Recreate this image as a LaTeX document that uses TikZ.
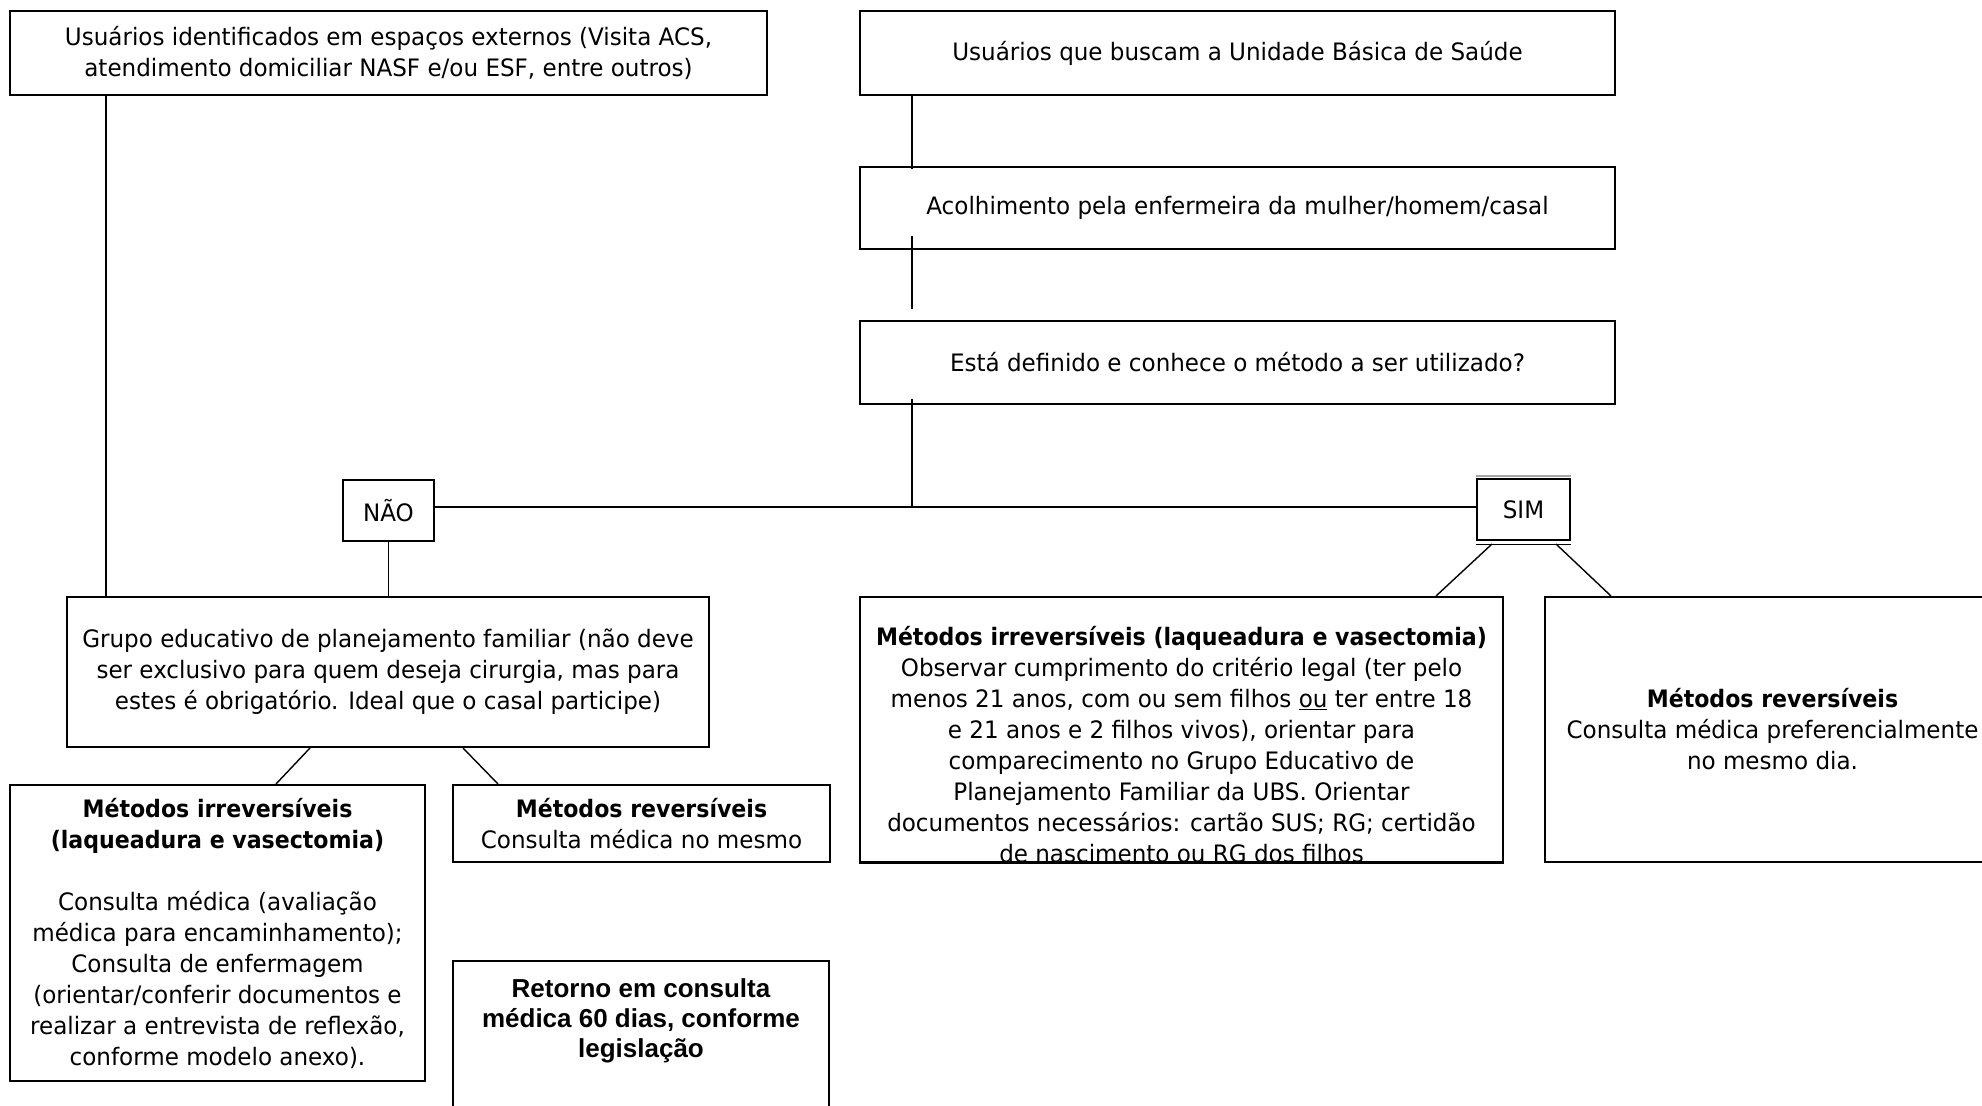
\documentclass[tikz,border=0pt]{standalone}
\usepackage{fontspec}
\setmainfont{DejaVu Sans}[UprightFeatures={FakeStretch=0.96},BoldFeatures={FakeStretch=0.92}]
\newfontfamily\arialfont{Liberation Sans}
\usetikzlibrary{calc}
\begin{document}
\begin{tikzpicture}[x=1pt,y=-1pt,
  box/.style={draw, line width=2pt, inner sep=0pt, align=center, font=\fontsize{24}{31}\selectfont},
  txt/.style={inner sep=0pt, align=center, font=\fontsize{24}{31}\selectfont},
  conn/.style={line width=1.4pt}]
\useasboundingbox (0,0) rectangle (1982,1106);
\clip (0,0) rectangle (1982,1106);
\fill[white] (0,0) rectangle (1982,1106);

\node[box, minimum width=757pt, minimum height=84pt] (box1) at (388.5,53)
  {Usuários identificados em espaços externos (Visita ACS,\\atendimento domiciliar NASF e/ou ESF, entre outros)};
\node[box, minimum width=755pt, minimum height=84pt] (box2) at (1237.5,53)
  {Usuários que buscam a Unidade Básica de Saúde};
\node[box, minimum width=755pt, minimum height=82pt] (box3) at (1237.5,208)
  {Acolhimento pela enfermeira da mulher/homem/casal};
\node[box, minimum width=755pt, minimum height=83pt] (box4) at (1237.5,362.5)
  {Está definido e conhece o método a ser utilizado?};

\node[box, minimum width=91pt, minimum height=61pt] (nao) at (388.5,510.5) {NÃO};
\node[box, minimum width=93pt, minimum height=61pt] (sim) at (1523.5,509.5) {SIM};
\draw[gray!70, line width=2.5pt] ($(sim.north west)+(0,-2)$) -- ($(sim.north east)+(0,-2)$);
\draw[line width=1pt] ($(sim.south west)+(0,3)$) -- ($(sim.south east)+(0,3)$);

\node[box, minimum width=642pt, minimum height=150pt] (grupo) at (388,672)
  {Grupo educativo de planejamento familiar (não deve\\ser exclusivo para quem deseja cirurgia, mas para\\estes é obrigatório. Ideal que o casal participe)};

\node[box, minimum width=415pt, minimum height=296pt] (irrL) at (217.5,933)
  {\textbf{Métodos irreversíveis}\\\textbf{(laqueadura e vasectomia)}\\[31pt]Consulta médica (avaliação\\médica para encaminhamento);\\Consulta de enfermagem\\(orientar/conferir documentos e\\realizar a entrevista de reflexão,\\conforme modelo anexo).};

\node[box, minimum width=377pt, minimum height=77pt] (revL) at (641.5,823.5)
  {\textbf{Métodos reversíveis}\\Consulta médica no mesmo};

\node[box, minimum width=376pt, minimum height=179pt] (ret) at (641,1050.5) {};
\node[txt, font=\arialfont\bfseries\fontsize{26}{30}\selectfont] (rett) at (641,1020.5)
  {Retorno em consulta\\médica 60 dias, conforme\\legislação};

\node[box, minimum width=643pt, minimum height=265pt] (irrR) at (1181.5,729.5) {};
\node[txt] (irrRt) at (1181.5,744.5)
  {\textbf{Métodos irreversíveis (laqueadura e vasectomia)}\\Observar cumprimento do critério legal (ter pelo\\menos 21 anos, com ou sem filhos \underline{ou} ter entre 18\\e 21 anos e 2 filhos vivos), orientar para\\comparecimento no Grupo Educativo de\\Planejamento Familiar da UBS. Orientar\\documentos necessários: cartão SUS; RG; certidão\\de nascimento ou RG dos filhos};
\draw[line width=2pt] (irrR.south west) -- (irrR.south east);

\node[box, minimum width=455pt, minimum height=265pt] (revR) at (1772.5,729.5)
  {\textbf{Métodos reversíveis}\\Consulta médica preferencialmente\\no mesmo dia.};

\coordinate (hub) at (912,507);
\coordinate (lx) at (106,0);
\draw[conn] (box2.south -| hub) -- ($(box3.north -| hub)+(0,3)$);
\draw[conn] ($(box3.south -| hub)+(0,-14)$) -- ($(box4.north -| hub)+(0,-11)$);
\draw[conn] ($(box4.south -| hub)+(0,-6)$) -- (hub);
\draw[line width=2pt] (nao.east |- hub) -- (sim.west |- hub);
\draw[conn] (box1.south -| lx) -- (grupo.north -| lx);
\draw[conn] (nao.south) -- (nao.south |- grupo.north);
\draw[conn] ($(grupo.south west)+(244,0)$) -- ($(irrL.north west)+(267,0)$);
\draw[conn] ($(grupo.south west)+(397,0)$) -- ($(revL.north west)+(46,0)$);
\draw[conn] ($(sim.south west)+(16,3)$) -- ($(irrR.north west)+(577,0)$);
\draw[conn] ($(sim.south west)+(80,3)$) -- ($(revR.north west)+(67,0)$);
\end{tikzpicture}
\end{document}
